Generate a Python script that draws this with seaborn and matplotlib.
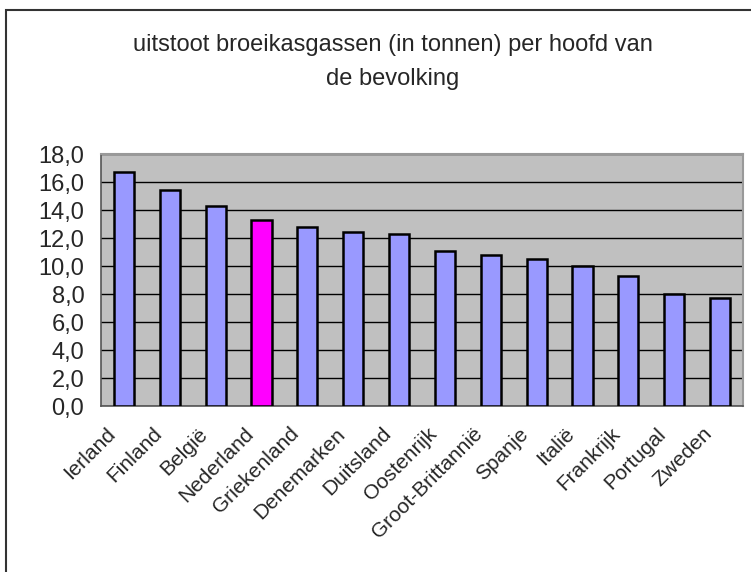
import matplotlib
matplotlib.use("Agg")
import matplotlib.pyplot as plt
from matplotlib.patches import Rectangle
from matplotlib.ticker import FuncFormatter, MultipleLocator
from matplotlib.transforms import ScaledTranslation
import seaborn as sns
import pandas as pd

landen = ["Ierland", "Finland", "België", "Nederland", "Griekenland", "Denemarken",
          "Duitsland", "Oostenrijk", "Groot-Brittannië", "Spanje", "Italië",
          "Frankrijk", "Portugal", "Zweden"]
uitstoot = [16.7, 15.4, 14.3, 13.3, 12.8, 12.4, 12.3, 11.1, 10.8, 10.5, 10.0, 9.3, 8.0, 7.7]
uitgelicht = "Nederland"

sns.set_theme(style="white")
plt.rcParams["font.family"] = ["Liberation Sans", "DejaVu Sans"]

W, H = 751, 572
fig = plt.figure(figsize=(W / 100, H / 100), dpi=100)

# outer chart frame (left and top edges visible)
fig.add_artist(Rectangle((6 / W, -0.1), 1.2, 1 - 10 / H + 0.1, transform=fig.transFigure,
                         fill=False, edgecolor="#333333", linewidth=1.5))

ax = fig.add_axes([101 / W, (H - 406) / H, 642 / W, 252 / H])
ax.set_facecolor("#C0C0C0")

df = pd.DataFrame({"land": landen, "uitstoot": uitstoot})
palette = {l: ("#FF00FF" if l == uitgelicht else "#9999FF") for l in landen}
sns.barplot(data=df, x="land", y="uitstoot", hue="land", palette=palette, legend=False,
            width=0.44, edgecolor="black", linewidth=1.8, saturation=1, ax=ax, zorder=3)

ax.set_ylim(0, 18)
ax.set_xlim(-0.5, len(landen) - 0.5)
ax.yaxis.set_major_locator(MultipleLocator(2))
ax.yaxis.set_major_formatter(FuncFormatter(lambda v, p: f"{v:.1f}".replace(".", ",")))
ax.grid(axis="y", color="black", linewidth=1.0, zorder=1)
ax.set_axisbelow(True)
ax.set_xlabel("")
ax.set_ylabel("")

for side in ["top", "right"]:
    ax.spines[side].set_color("#999999")
    ax.spines[side].set_linewidth(1.5)
for side in ["left", "bottom"]:
    ax.spines[side].set_color("#555555")
    ax.spines[side].set_linewidth(1.2)

# bottom ticks sit between categories
ax.set_xticks([i - 0.5 for i in range(len(landen) + 1)], minor=True)
ax.tick_params(axis="x", which="minor", length=5, color="#555555", width=1)
ax.tick_params(axis="x", which="major", length=0, pad=13)
ax.tick_params(axis="y", length=8, color="#333333", width=1, pad=4)
ax.set_xticks(range(len(landen)))
ax.set_xticklabels(landen, rotation=45, ha="right", va="top", rotation_mode="anchor",
                   fontsize=15)
shift = ScaledTranslation(-18 / 100, 0, fig.dpi_scale_trans)
for lab in ax.get_xticklabels():
    lab.set_transform(lab.get_transform() + shift)
for lab in ax.get_yticklabels():
    lab.set_fontsize(17)

fig.text(393 / W, 1 - 62 / H, "uitstoot broeikasgassen (in tonnen) per hoofd van\nde bevolking",
         ha="center", va="center", fontsize=17, linespacing=1.65)

fig.savefig("out.png", dpi=100, facecolor="white")
